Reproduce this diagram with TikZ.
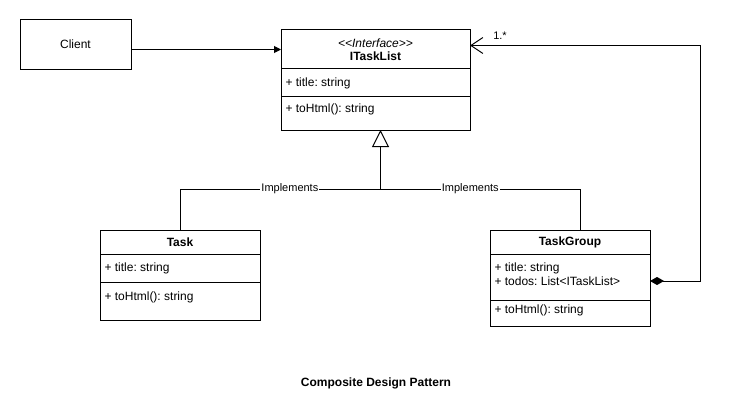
\documentclass[tikz,border=0pt]{standalone}
\usepackage{fontspec}
\setmainfont{Liberation Sans}
\usetikzlibrary{positioning,arrows.meta}
\frenchspacing

\newcommand{\umlfont}{\fontsize{12}{12}\selectfont}
\newcommand{\lblfont}{\fontsize{11}{11}\selectfont}

\begin{document}
\begin{tikzpicture}[x=1pt, y=-1pt, line width=1pt,
  box/.style={draw, rectangle, inner sep=0pt, outer sep=0pt, font=\umlfont},
  part/.style={box, minimum width=160},
  member/.style={anchor=west, inner sep=0pt, font=\umlfont},
  lbl/.style={fill=white, inner sep=1pt, font=\lblfont}]
  \useasboundingbox (0,0) rectangle (738,417);

  % client
  \node[box, anchor=north west, minimum width=111, minimum height=50] (client) at (20,20) {};
  \node[font=\umlfont] (clienttxt) at ([yshift=1]client.center) {Client};

  % interface
  \node[box, anchor=north west, minimum width=189, minimum height=39] (itlhead) at (281,30) {};
  \node[box, below=0pt of itlhead, minimum width=189, minimum height=28] (itlattr) {};
  \node[box, below=0pt of itlattr, minimum width=189, minimum height=33] (itlops) {};
  \node[font=\umlfont, align=center, inner sep=0pt] (itlname) at (itlhead.center)
    {\textit{<\kern0pt<Interface>\kern0pt>}\\[0.5pt]\textbf{ITaskList}};
  \node[member] (itltitle) at ([xshift=4]itlattr.west) {+ title: string};
  \node[member] (itlhtml) at ([xshift=4, yshift=-12]itlops.north west) {+ toHtml(): string};

  % leaf
  \node[part, anchor=north west, minimum height=24] (taskhead) at (100,230) {\textbf{Task}};
  \node[part, below=0pt of taskhead, minimum height=28] (taskattr) {};
  \node[part, below=0pt of taskattr, minimum height=38] (taskops) {};
  \node[member] (tasktitle) at ([xshift=4]taskattr.west) {+ title: string};
  \node[member] (taskhtml) at ([xshift=4, yshift=-15]taskops.north west) {+ toHtml(): string};

  % composite
  \node[part, anchor=north west, minimum height=24] (tghead) at (490,230) {\textbf{TaskGroup}};
  \node[part, below=0pt of tghead, minimum height=46] (tgattr) {};
  \node[part, below=0pt of tgattr, minimum height=26] (tgops) {};
  \node[member] (tgtitle) at ([xshift=4, yshift=-14]tgattr.north west) {+ title: string};
  \node[member] (tgtodos) at ([xshift=4, yshift=-27]tgattr.north west) {+ todos: List<ITaskList>};
  \node[member] (tghtml) at ([xshift=4, yshift=-10]tgops.north west) {+ toHtml(): string};

  % connectors
  \draw[-{Triangle[length=7pt, width=7pt]}] (client.east |- itlhead.west) -- (itlhead.west);
  \coordinate (joint) at ([xshift=5, yshift=-59]itlops.south);
  \draw (taskhead.north) |- node[lbl, pos=0.774] {Implements} (joint);
  \draw ([xshift=10]tghead.north) |- node[lbl, pos=0.775] {Implements} (joint);
  \draw[-{Triangle[open, length=17pt, width=17pt]}] (joint) -- (joint |- itlops.south);
  \draw[{Diamond[length=14pt, width=8pt]}-{Straight Barb[length=12pt, width=16pt]}]
    ([yshift=-4]tgattr.east) -| ([xshift=230, yshift=4]itlhead.east) -- ([yshift=4]itlhead.east);
  \node[font=\lblfont, inner sep=0pt] (mult) at ([xshift=30, yshift=14]itlhead.east) {1.*};

  \node[font=\umlfont\bfseries] (title) at (376,383) {Composite Design Pattern};
\end{tikzpicture}
\end{document}
